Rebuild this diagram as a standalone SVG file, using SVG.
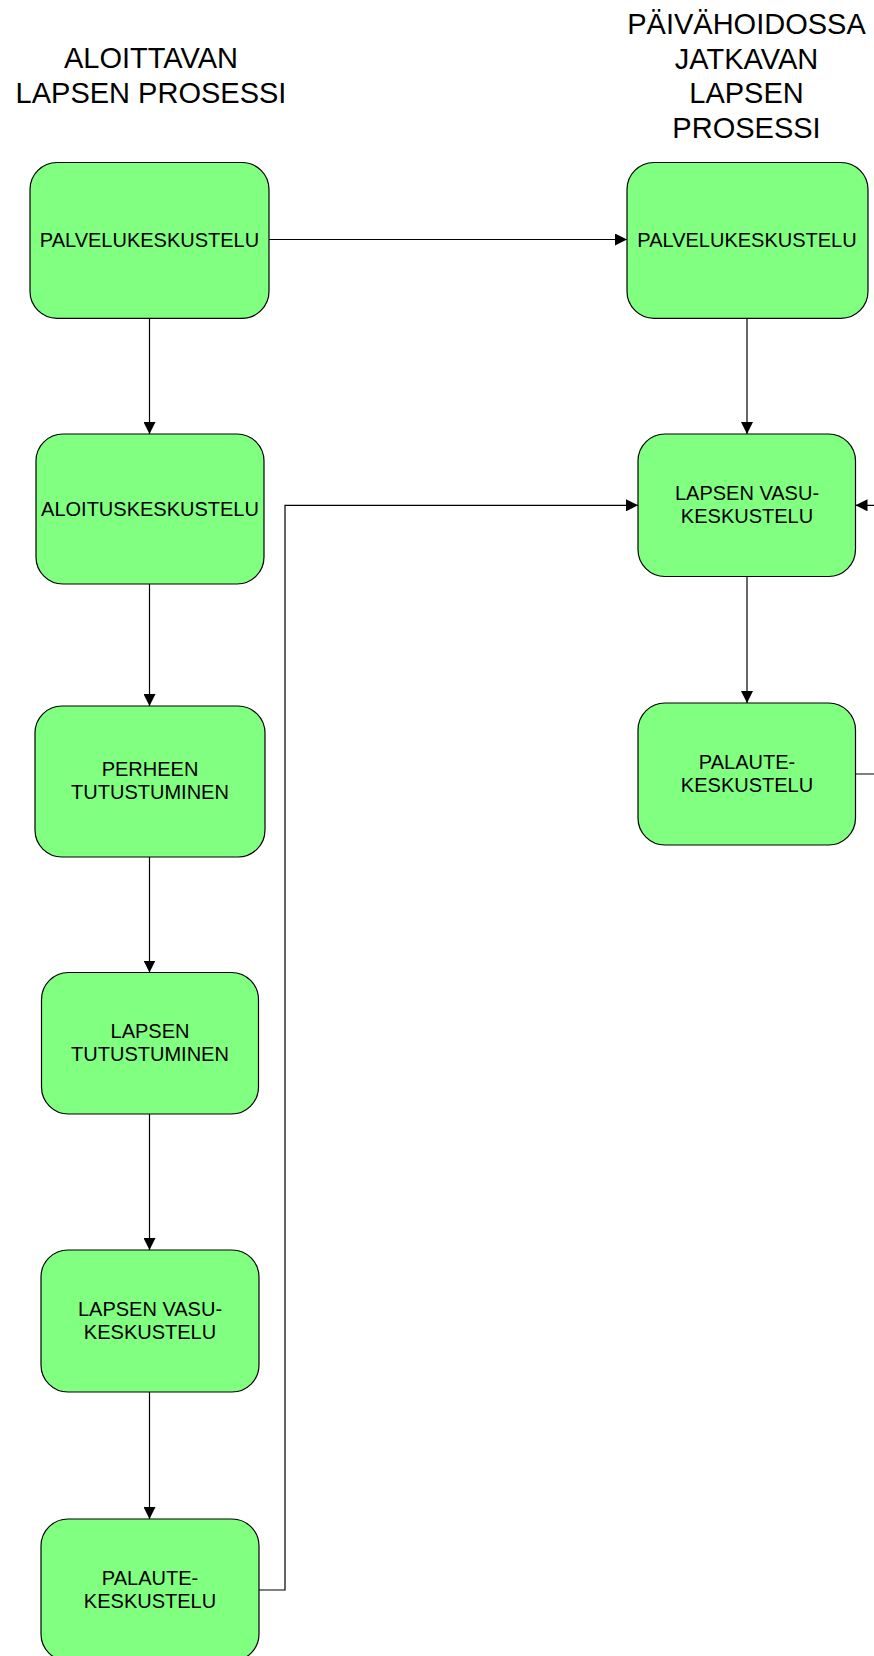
<svg xmlns="http://www.w3.org/2000/svg" width="874" height="1656" viewBox="0 0 874 1656">
<style>
.box{fill:#80FF80;stroke:#000;stroke-width:1.2}
.t{font-family:"Liberation Sans",Arial,sans-serif;font-size:20px;fill:#000;text-anchor:middle}
.h{font-family:"Liberation Sans",Arial,sans-serif;font-size:29px;fill:#000;text-anchor:middle}
.c{fill:none;stroke:#000;stroke-width:1.2}
</style>
<defs>
<marker id="arr" markerWidth="12" markerHeight="12" refX="12" refY="6" orient="auto" markerUnits="userSpaceOnUse">
<path d="M0,0 L12,6 L0,12 Z" fill="#000"/>
</marker>
</defs>
<rect width="874" height="1656" fill="#fff"/>
<g id="title-left">
<text class="h" x="151" y="68">ALOITTAVAN</text>
<text class="h" x="151" y="102.5">LAPSEN PROSESSI</text>
</g>
<g id="title-right">
<text class="h" x="746.5" y="34">PÄIVÄHOIDOSSA</text>
<text class="h" x="746.5" y="68.5">JATKAVAN</text>
<text class="h" x="746.5" y="103">LAPSEN</text>
<text class="h" x="746.5" y="137.5">PROSESSI</text>
</g>
<g id="connectors">
<line class="c" x1="149.5" y1="318.3" x2="149.5" y2="434" marker-end="url(#arr)"/>
<line class="c" x1="149.5" y1="584" x2="149.5" y2="706" marker-end="url(#arr)"/>
<line class="c" x1="149.5" y1="857" x2="149.5" y2="972.5" marker-end="url(#arr)"/>
<line class="c" x1="149.5" y1="1114" x2="149.5" y2="1250" marker-end="url(#arr)"/>
<line class="c" x1="149.5" y1="1392" x2="149.5" y2="1519" marker-end="url(#arr)"/>
<line class="c" x1="269" y1="239.5" x2="627" y2="239.5" marker-end="url(#arr)"/>
<line class="c" x1="747" y1="318.3" x2="747" y2="434" marker-end="url(#arr)"/>
<line class="c" x1="747" y1="576.5" x2="747" y2="703" marker-end="url(#arr)"/>
<polyline class="c" points="259,1590 285,1590 285,505.3 638,505.3" marker-end="url(#arr)"/>
<polyline class="c" points="855.5,774 884,774 884,505.3 855.5,505.3" marker-end="url(#arr)"/>
</g>
<g id="L1"><rect class="box" x="30" y="162.5" width="239" height="155.8" rx="27" ry="27"/><text class="t" x="149.5" y="246.5">PALVELUKESKUSTELU</text></g>
<g id="L2"><rect class="box" x="36" y="434" width="228" height="150" rx="27" ry="27"/><text class="t" x="150" y="515.5">ALOITUSKESKUSTELU</text></g>
<g id="L3"><rect class="box" x="35" y="706" width="230" height="151" rx="27" ry="27"/><text class="t" x="150" y="776">PERHEEN</text><text class="t" x="150" y="798.8">TUTUSTUMINEN</text></g>
<g id="L4"><rect class="box" x="41.5" y="972.5" width="217" height="141.5" rx="27" ry="27"/><text class="t" x="150" y="1038">LAPSEN</text><text class="t" x="150" y="1060.8">TUTUSTUMINEN</text></g>
<g id="L5"><rect class="box" x="41" y="1250" width="218" height="142" rx="27" ry="27"/><text class="t" x="150" y="1316">LAPSEN VASU-</text><text class="t" x="150" y="1338.8">KESKUSTELU</text></g>
<g id="L6"><rect class="box" x="41" y="1519" width="218" height="142" rx="27" ry="27"/><text class="t" x="150" y="1585">PALAUTE-</text><text class="t" x="150" y="1607.8">KESKUSTELU</text></g>
<g id="R1"><rect class="box" x="627" y="162.5" width="241" height="155.8" rx="27" ry="27"/><text class="t" x="747" y="246.5">PALVELUKESKUSTELU</text></g>
<g id="R2"><rect class="box" x="638" y="434" width="217.5" height="142.5" rx="27" ry="27"/><text class="t" x="747" y="500">LAPSEN VASU-</text><text class="t" x="747" y="522.8">KESKUSTELU</text></g>
<g id="R3"><rect class="box" x="638" y="703" width="217.5" height="142" rx="27" ry="27"/><text class="t" x="747" y="769.3">PALAUTE-</text><text class="t" x="747" y="792">KESKUSTELU</text></g>
</svg>
